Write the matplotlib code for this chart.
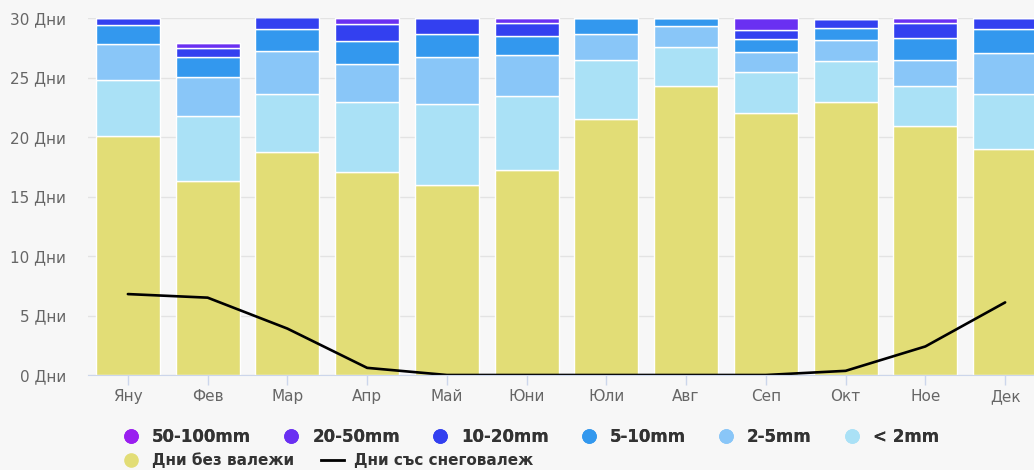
import matplotlib
matplotlib.use("Agg")
import matplotlib.pyplot as plt
from matplotlib.lines import Line2D
import numpy as np

months = ["Яну", "Фев", "Мар", "Апр", "Май", "Юни",
          "Юли", "Авг", "Сеп", "Окт", "Ное", "Дек"]

dry_days = [20.1, 16.3, 18.7, 17.1, 16.0, 17.2, 21.5, 24.3, 22.05, 22.95, 20.95, 19.0]
lt_2mm = [4.7, 5.45, 4.95, 5.85, 6.75, 6.25, 4.95, 3.25, 3.4, 3.4, 3.3, 4.6]
mm_2_5 = [3.0, 3.3, 3.6, 3.15, 4.0, 3.4, 2.2, 1.77, 1.7, 1.8, 2.2, 3.45]
mm_5_10 = [1.65, 1.65, 1.8, 1.95, 1.9, 1.6, 1.35, 0.68, 1.05, 1.0, 1.9, 2.03]
mm_10_20 = [0.55, 0.8, 1.0, 1.47, 1.35, 1.15, 0.0, 0.0, 0.8, 0.8, 1.27, 0.92]
mm_20_50 = [0.0, 0.4, 0.0, 0.48, 0.0, 0.4, 0.0, 0.0, 1.0, 0.0, 0.38, 0.0]
mm_50_100 = [0.0] * 12
snow_days = [6.8, 6.5, 3.9, 0.6, 0.0, 0.0, 0.0, 0.0, 0.0, 0.35, 2.4, 6.1]

y_ticks = [0, 5, 10, 15, 20, 25, 30]

series = [
    ("Дни без валежи", dry_days, "#e2dd76"),
    ("< 2mm", lt_2mm, "#aae1f6"),
    ("2-5mm", mm_2_5, "#89c6f8"),
    ("5-10mm", mm_5_10, "#3398ee"),
    ("10-20mm", mm_10_20, "#3340f0"),
    ("20-50mm", mm_20_50, "#6a30f2"),
    ("50-100mm", mm_50_100, "#9a1ff0"),
]

bg = "#f7f7f7"
plt.rcParams["font.family"] = ["DejaVu Sans"]

fig = plt.figure(figsize=(10.34, 4.70), dpi=100, facecolor=bg)
ax = fig.add_axes([88 / 1034, 95 / 470, (1045 - 88) / 1034, 357 / 470])
ax.set_facecolor(bg)

x = np.arange(len(months))
bottom = np.zeros(len(months))
for name, vals, col in series:
    v = np.array(vals)
    ax.bar(x, v, width=0.8, bottom=bottom, color=col, edgecolor="white",
           linewidth=1.0, zorder=2)
    bottom += v

ax.plot(x, snow_days, color="black", linewidth=1.9, zorder=3,
        solid_joinstyle="round", solid_capstyle="round")

ax.set_xlim(-0.5, 11.5)
ax.set_ylim(0, 30)
ax.set_yticks(y_ticks)
ax.set_yticklabels([f"{t} Дни" for t in y_ticks])
ax.set_xticks(x)
ax.set_xticklabels(months)

ax.grid(axis="y", color="#e3e3e3", linewidth=1.0, zorder=0)
for s in ["top", "right", "left"]:
    ax.spines[s].set_visible(False)
ax.spines["bottom"].set_color("#ccd6eb")
ax.spines["bottom"].set_zorder(4)

ax.tick_params(axis="y", length=0, pad=16, labelsize=11, labelcolor="#666666")
ax.tick_params(axis="x", length=7.2, width=1, color="#ccd6eb", pad=3,
               labelsize=11, labelcolor="#666666")

def dot(col):
    return Line2D([], [], marker="o", linestyle="none", markersize=9.5,
                  markerfacecolor=col, markeredgecolor=col)

row1 = [("50-100mm", "#9a1ff0"), ("20-50mm", "#6a30f2"), ("10-20mm", "#3340f0"),
        ("5-10mm", "#3398ee"), ("2-5mm", "#89c6f8"), ("< 2mm", "#aae1f6")]
leg1 = fig.legend([dot(c) for _, c in row1], [n for n, _ in row1],
                  loc="center left", bbox_to_anchor=(122.7 / 1034, 33 / 470),
                  ncol=6, frameon=False, borderpad=0, borderaxespad=0,
                  handlelength=1.0, handletextpad=0.76, columnspacing=1.9,
                  prop={"weight": "bold", "size": 12})
for t in leg1.get_texts():
    t.set_color("#333333")

row2_handles = [dot("#e2dd76"),
                Line2D([], [], color="black", linewidth=2.0)]
leg2 = fig.legend(row2_handles, ["Дни без валежи", "Дни със снеговалеж"],
                  loc="center left", bbox_to_anchor=(119.35 / 1034, 10 / 470),
                  ncol=2, frameon=False, borderpad=0, borderaxespad=0,
                  handlelength=1.52, handletextpad=0.61, columnspacing=1.77,
                  prop={"weight": "bold", "size": 11})
fig.add_artist(leg1)
for t in leg2.get_texts():
    t.set_color("#333333")

fig.savefig("out.png", dpi=100, facecolor=bg)
